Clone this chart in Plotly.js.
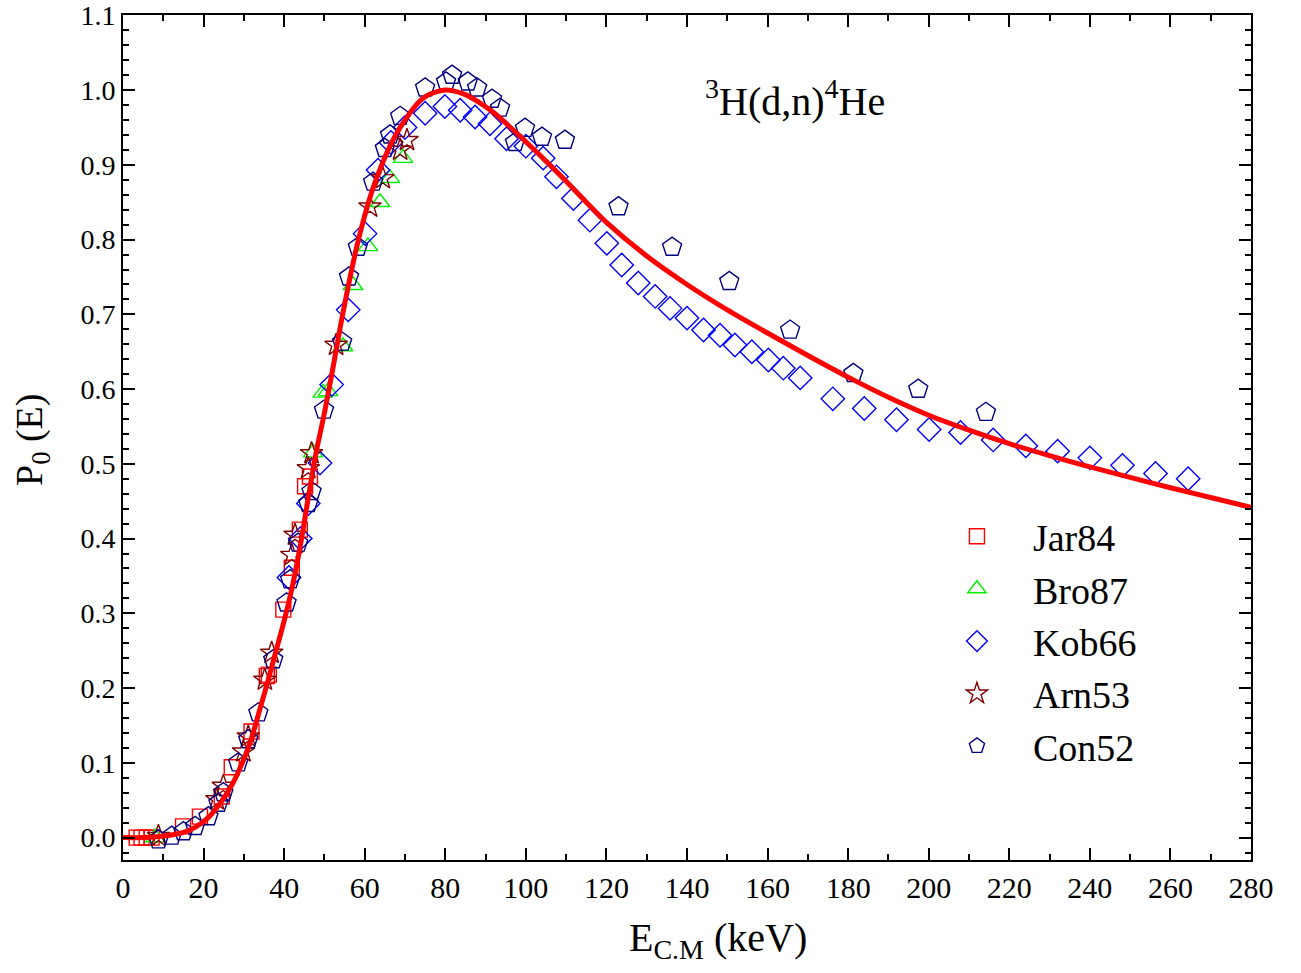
<!DOCTYPE html>
<html>
<head>
<meta charset="utf-8">
<script src="https://cdn.plot.ly/plotly-3.0.1.min.js"></script>
<style>html,body{margin:0;padding:0;background:#fff;}#chart{width:1301px;height:973px;}</style>
</head>
<body>
<div id="chart"></div>
<script>
// Jar84 (open squares)
const jarE = [3.4, 4.6, 5.9, 7.1, 14.9, 19.1, 24.5, 27.0, 31.9, 35.7, 36.2, 39.8, 41.9, 43.9, 45.2, 46.4];
const jarP = [0.0, 0.0, 0.0, 0.0, 0.015, 0.028, 0.055, 0.094, 0.142, 0.216, 0.218, 0.305, 0.361, 0.412, 0.470, 0.483];
// Bro87 (open triangles)
const broE = [8.0, 47.2, 49.6, 50.9, 54.6, 57.1, 60.8, 63.8, 66.3, 69.5];
const broP = [0.0, 0.515, 0.595, 0.597, 0.657, 0.739, 0.791, 0.850, 0.882, 0.909];
// Kob66 (open diamonds)
const kobE = [41.2, 44.0, 46.0, 48.9, 51.8, 55.9, 60.1, 63.3, 66.5, 70.0, 75.0, 79.9, 83.7, 87.4, 91.1, 95.2, 100.0, 104.3, 107.6, 111.8, 115.9, 120.1, 123.8, 127.9, 132.1, 135.8, 140.0, 144.1, 148.2, 151.9, 156.1, 160.2, 163.9, 168.1, 176.2, 184.0, 192.0, 200.1, 207.9, 216.0, 224.1, 232.0, 240.0, 248.1, 256.3, 264.4];
const kobP = [0.348, 0.400, 0.447, 0.501, 0.606, 0.706, 0.808, 0.893, 0.930, 0.950, 0.969, 0.978, 0.973, 0.964, 0.955, 0.935, 0.925, 0.909, 0.884, 0.855, 0.826, 0.795, 0.766, 0.742, 0.724, 0.708, 0.695, 0.679, 0.672, 0.659, 0.650, 0.639, 0.628, 0.615, 0.587, 0.574, 0.559, 0.546, 0.542, 0.532, 0.524, 0.517, 0.508, 0.498, 0.487, 0.480];
// Arn53 (open stars)
const arnE = [8.8, 23.3, 24.9, 29.9, 31.1, 35.2, 36.9, 41.9, 42.7, 46.0, 46.8, 52.9, 61.3, 64.5, 68.8, 70.5];
const arnP = [0.002, 0.051, 0.069, 0.115, 0.135, 0.211, 0.247, 0.378, 0.405, 0.494, 0.514, 0.659, 0.844, 0.882, 0.920, 0.933];
// Con52 (open pentagons)
const conE = [8.8, 12.1, 15.0, 17.9, 21.2, 23.7, 24.9, 28.6, 31.1, 33.6, 37.3, 40.6, 41.5, 43.5, 46.0, 46.8, 49.9, 54.4, 56.1, 58.3, 62.1, 65.0, 66.3, 68.8, 75.0, 80.2, 81.7, 85.6, 87.9, 91.6, 93.6, 97.3, 99.8, 104.0, 109.7, 123.0, 136.3, 150.5, 165.6, 181.3, 197.4, 214.2];
const conP = [-0.003, 0.002, 0.008, 0.015, 0.028, 0.046, 0.060, 0.100, 0.131, 0.167, 0.238, 0.314, 0.345, 0.394, 0.447, 0.463, 0.572, 0.663, 0.750, 0.790, 0.877, 0.922, 0.940, 0.965, 1.003, 1.011, 1.020, 1.011, 1.003, 0.988, 0.976, 0.930, 0.949, 0.937, 0.933, 0.844, 0.790, 0.744, 0.679, 0.621, 0.600, 0.569];
// Fitted curve
const fitE = [0, 5, 10, 15, 18, 21, 24, 27, 30, 32, 34, 36, 38, 40, 42, 44, 46, 48, 50, 52, 54, 56, 58, 60, 62, 64, 66, 68, 70, 72, 74, 76, 78, 80, 82, 85, 88, 91, 94, 97, 100, 105, 110, 115, 120, 130, 140, 150, 160, 170, 180, 190, 200, 210, 220, 230, 240, 250, 260, 270, 280];
const fitP = [0.000, 0.000, 0.002, 0.007, 0.014, 0.026, 0.045, 0.070, 0.105, 0.135, 0.172, 0.210, 0.250, 0.290, 0.335, 0.390, 0.455, 0.517, 0.568, 0.625, 0.685, 0.740, 0.790, 0.832, 0.868, 0.897, 0.922, 0.943, 0.960, 0.975, 0.987, 0.994, 0.998, 1.000, 0.999, 0.994, 0.985, 0.974, 0.961, 0.946, 0.931, 0.905, 0.878, 0.850, 0.823, 0.778, 0.740, 0.706, 0.675, 0.645, 0.616, 0.589, 0.565, 0.545, 0.527, 0.511, 0.496, 0.482, 0.468, 0.455, 0.442];
// Tick labels
const yTickVals = [0.0, 0.1, 0.2, 0.3, 0.4, 0.5, 0.6, 0.7, 0.8, 0.9, 1.0, 1.1];
const yTickText = ['0.0', '0.1', '0.2', '0.3', '0.4', '0.5', '0.6', '0.7', '0.8', '0.9', '1.0', '1.1'];
// Labels
const xTitle = 'E<sub>C.M</sub> (keV)';
const yTitle = 'P<sub>0</sub> (E)';
const reaction = '<sup>3</sup>H(d,n)<sup>4</sup>He';

const FONT = 'Liberation Serif, Times New Roman, serif';

function sc(name, x, y, sym, size, color, grp) {
  return {x: x, y: y, name: name, type: 'scatter', mode: 'markers', legendgroup: grp,
    marker: {symbol: sym, size: size, color: color, line: {color: color, width: 1.4}}};
}

const fit = {x: fitE, y: fitP, type: 'scatter', mode: 'lines', line: {color: '#ff0000', width: 5, shape: 'spline', smoothing: 0.8}, showlegend: false, hoverinfo: 'skip'};
const data = [
  sc('Jar84', jarE, jarP, 'square-open', 15, '#ff0000', 'a'),
  sc('Bro87', broE, broP, 'triangle-up-open', 17, '#00ee00', 'b'),
  sc('Kob66', kobE, kobP, 'diamond-open', 18, '#0000ff', 'c'),
  sc('Arn53', arnE, arnP, 'star-open', 17, '#800000', 'd'),
  sc('Con52', conE, conP, 'pentagon-open', 20, '#000080', 'e'),
  fit
];

const axisCommon = {
  showline: true, linecolor: '#000', linewidth: 2, mirror: 'ticks',
  ticks: 'inside', ticklen: 12, tickwidth: 2, tickcolor: '#000',
  showgrid: false, zeroline: false
};

const layout = {
  width: 1301, height: 973,
  margin: {l: 123, r: 50, t: 15, b: 113},
  paper_bgcolor: '#fff', plot_bgcolor: '#fff',
  font: {family: FONT, color: '#000'},
  xaxis: Object.assign({}, axisCommon, {
    range: [0, 280], dtick: 20, tick0: 0,
    tickfont: {family: FONT, size: 30, color: '#000'},
    minor: {ticks: 'inside', ticklen: 6, tickwidth: 2, dtick: 10, tickcolor: '#000'}
  }),
  yaxis: Object.assign({}, axisCommon, {
    range: [-0.03, 1.1005], tickmode: 'array', tickvals: yTickVals, ticktext: yTickText,
    tickfont: {family: FONT, size: 28, color: '#000'},
    minor: {ticks: 'inside', ticklen: 6, tickwidth: 2, dtick: 0.02, tick0: 0, tickcolor: '#000'}
  }),
  legend: {
    x: 0.7074, y: 0.42, xanchor: 'left', yanchor: 'top',
    bgcolor: 'rgba(0,0,0,0)', borderwidth: 0,
    font: {family: FONT, size: 38, color: '#000'},
    itemwidth: 102, tracegroupgap: 0, traceorder: 'normal'
  },
  annotations: [
    {xref: 'paper', yref: 'paper', x: (795 - 123) / 1128, y: (860 - 98) / 845, xanchor: 'center', yanchor: 'middle',
     text: reaction, showarrow: false, font: {family: FONT, size: 40, color: '#000'}},
    {xref: 'paper', yref: 'paper', x: (718 - 123) / 1128, y: (860 - 940) / 845, xanchor: 'center', yanchor: 'middle',
     text: xTitle, showarrow: false, font: {family: FONT, size: 40, color: '#000'}},
    {xref: 'paper', yref: 'paper', x: (32 - 123) / 1128, y: (860 - 440) / 845, xanchor: 'center', yanchor: 'middle',
     text: yTitle, textangle: -90, showarrow: false, font: {family: FONT, size: 38, color: '#000'}}
  ],
  showlegend: true
};

Plotly.newPlot('chart', data, layout, {staticPlot: true, displayModeBar: false});
</script>
</body>
</html>
